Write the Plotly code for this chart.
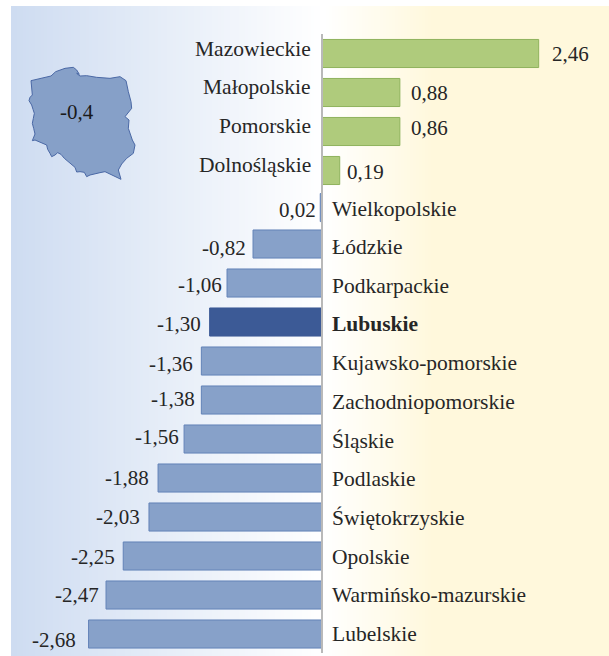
import plotly.graph_objects as go

regions = ["Mazowieckie", "Małopolskie", "Pomorskie", "Dolnośląskie", "Wielkopolskie", "Łódzkie",
           "Podkarpackie", "Lubuskie", "Kujawsko-pomorskie", "Zachodniopomorskie", "Śląskie",
           "Podlaskie", "Świętokrzyskie", "Opolskie", "Warmińsko-mazurskie", "Lubelskie"]
# bar lengths as drawn in the picture
values = [2.482, 0.892, 0.892, 0.203, -0.02, -0.79, -1.088, -1.287, -1.382, -1.382, -1.58, -1.878, -1.982, -2.277, -2.474, -2.674]
# numbers as printed in the picture
value_labels = ["2,46", "0,88", "0,86", "0,19", "0,02", "-0,82", "-1,06", "-1,30", "-1,36", "-1,38", "-1,56",
                "-1,88", "-2,03", "-2,25", "-2,47", "-2,68"]
# row slots: the rows are not quite evenly spaced
row_pos = [0, 1, 2, 3, 3.95, 4.885, 5.885, 6.885, 7.885, 8.885, 9.885, 10.885, 11.885, 12.885, 13.885, 14.885]
highlight = "Lubuskie"
national = "-0,4"

# label nudges (pixels)
value_gap = [11, 9, 9, 5.6, 2, 5.5, 3.5, 7, 6, 4.8, 3.5, 7, 7, 5.8, 5, 11]
value_dy = [0, 0, -4, 1, 2, 4, 2, 2, 3, -1, -2, 0, 0, 1, 0, 6]
name_dy = [-5, -5.5, -5.5, -5.5, 1, 3, 2.7, 2.4, 2, 2, 1.5, 1, 1, 0.5, 0, 0]

# outline of Poland, in page pixels x3 relative to its crop corner
map_x = [18,50,78,92,120,145,155,163,155,165,185,215,255,285,303,310,318,320,300,312,310,322,330,325,305,290,280,288,270,255,240,225,210,195,185,178,165,155,150,135,118,108,98,90,80,75,68,65,52,40,30,22,25,30,26,22,25,28,24,20,12,15,22,20,18]
map_y = [62,55,48,35,25,22,30,43,40,48,47,52,55,50,62,95,125,145,170,180,205,240,255,280,295,312,330,358,350,343,335,338,342,345,350,337,335,336,322,310,295,283,278,285,290,280,268,255,250,245,240,242,232,222,205,190,175,160,148,135,122,112,105,85,62]

W, H = 609, 656
X0, K = 322, 87.3
Y0, STEP = 53.5, 39
FONT = "Liberation Serif"
TXT = "#262626"


def mix(a, b, t):
    return "rgb(%d,%d,%d)" % tuple(round(p + (q - p) * t) for p, q in zip(a, b))


shapes = []
L, T = 11, 6
for px in range(L, W, 3):
    if px < X0:
        c = mix((206, 220, 241), (255, 255, 255), (px - L) / (X0 - L))
    else:
        c = mix((255, 255, 255), (255, 248, 220), min(1, (px - X0) / 110))
    shapes.append(dict(type="rect", xref="paper", yref="paper", x0=px / W, x1=min(px + 3.5, W) / W,
                       y0=0, y1=1 - T / H, fillcolor=c, line_width=0, layer="below"))
shapes.append(dict(type="line", xref="paper", yref="paper", x0=X0 / W, x1=X0 / W, y0=1 - 34 / H, y1=1 - 653 / H,
                   line=dict(color="#b9b9b9", width=2), layer="above"))

fill = ["#3c5a96" if r == highlight else ("#afcb7c" if v > 0 else "#87a1c9") for r, v in zip(regions, values)]
edge = ["#3c5a96" if r == highlight else ("#8fb25c" if v > 0 else "#6383b8") for r, v in zip(regions, values)]

fig = go.Figure()
fig.add_trace(go.Bar(y=row_pos, x=values, orientation="h", width=0.72, hoverinfo="skip",
                     marker=dict(color=fill, line=dict(color=edge, width=1))))
fig.add_trace(go.Scatter(x=[25 + v / 3 for v in map_x], y=[60 + v / 3 for v in map_y], xaxis="x2", yaxis="y2",
                         mode="lines", fill="toself", fillcolor="#86a0c8", hoverinfo="skip",
                         line=dict(color="#4a68a5", width=1, shape="linear")))

ann = []
for r, p, v, lab, g, dy, ny in zip(regions, row_pos, values, value_labels, value_gap, value_dy, name_dy):
    pos = v > 0
    ann.append(dict(x=v, y=p, text=lab, showarrow=False, xanchor="left" if pos else "right",
                    xshift=g if pos else -g, yshift=-dy, xref="x", yref="y",
                    font=dict(family=FONT, size=21, color=TXT)))
    t = f"<b>{r}</b>" if r == highlight else r
    ann.append(dict(x=0, y=p, text=t, showarrow=False, xanchor="right" if pos else "left",
                    xshift=-9 if pos else 8, yshift=-ny, xref="x", yref="y",
                    font=dict(family=FONT, size=21.5, color=TXT)))
ann.append(dict(x=77, y=112, xref="x2", yref="y2", text=national, showarrow=False,
                font=dict(family=FONT, size=21, color="#1a1a1a")))

fig.update_layout(
    width=W, height=H, margin=dict(l=0, r=0, t=0, b=0), showlegend=False, autosize=False,
    paper_bgcolor="white", plot_bgcolor="rgba(0,0,0,0)", shapes=shapes, annotations=ann,
    xaxis=dict(range=[-X0 / K, (W - X0) / K], visible=False, fixedrange=True, domain=[0, 1]),
    yaxis=dict(range=[(H - Y0) / STEP, -Y0 / STEP], visible=False, fixedrange=True, domain=[0, 1]),
    xaxis2=dict(range=[0, W], overlaying="x", visible=False, fixedrange=True, anchor="y2"),
    yaxis2=dict(range=[H, 0], overlaying="y", visible=False, fixedrange=True, anchor="x2"),
)
fig.write_html("out.html", config=dict(displayModeBar=False),
               post_script="document.body.style.margin='0';document.body.style.overflow='hidden';")
